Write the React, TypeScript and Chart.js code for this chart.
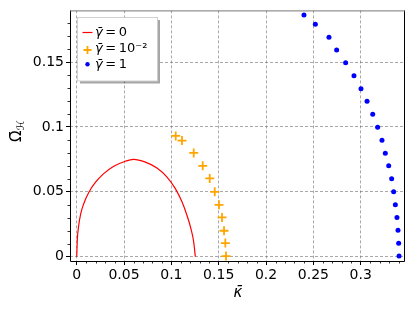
import React, { useEffect, useRef } from "react";
import { Chart, registerables } from "chart.js";

Chart.register(...registerables);

// ---- data ----
const redKappa = [0, 0.0007, 0.0021, 0.0042, 0.0074, 0.0127, 0.0197, 0.0285, 0.0391, 0.0514, 0.06, 0.0725, 0.0848, 0.0954, 0.1042, 0.1112, 0.1165, 0.1207, 0.1236, 0.1253];
const redOmega = [0, 0.0138, 0.0241, 0.0331, 0.0408, 0.0495, 0.0572, 0.064, 0.0697, 0.0736, 0.075, 0.0729, 0.0684, 0.0614, 0.0525, 0.0423, 0.0318, 0.0215, 0.0113, 0];

const orangeKappa = [0.1046, 0.1112, 0.1236, 0.1331, 0.1405, 0.1458, 0.1503, 0.1535, 0.1556, 0.157, 0.1577];
const orangeOmega = [0.0931, 0.0895, 0.08, 0.07, 0.0603, 0.05, 0.04, 0.0303, 0.02, 0.0105, 0.0005];

const blueKappa = [0.2401, 0.2521, 0.2665, 0.2746, 0.2841, 0.2929, 0.3003, 0.3067, 0.3127, 0.3179, 0.3225, 0.326, 0.3296, 0.3327, 0.3348, 0.3366, 0.3383, 0.3394, 0.3401, 0.3405];
const blueOmega = [0.1862, 0.1792, 0.1692, 0.1592, 0.1495, 0.1395, 0.1295, 0.1198, 0.1098, 0.0998, 0.0898, 0.0798, 0.07, 0.06, 0.05, 0.04, 0.0303, 0.0203, 0.0103, 0.0005];

const legendSymbol = "\u03B3\u0304";
const legendValues = ["\u2009=\u20090", "\u2009=\u200910\u207B\u00B2", "\u2009=\u20091"];
const xTitle = "\u03BA\u0304";
const yTitleMain = "\u03A9\u0304";
const yTitleSub = "\u210B";

const X_MIN = -0.0071;
const X_MAX = 0.3468;
const Y_MIN = -0.0033;
const Y_MAX = 0.1898;
const MAJOR_STEP = 0.05;
const MINOR_COUNT_X = 34;
const MINOR_COUNT_Y = 18;

const FONT = "'DejaVu Sans', sans-serif";

const zip = (xs: number[], ys: number[]) => xs.map((x, i) => ({ x, y: ys[i] }));
const fmt = (v: number) => String(Math.round(v * 100) / 100);

const decorPlugin = {
  id: "decor",
  afterDraw(chart: any) {
    const { ctx, chartArea } = chart;
    const { left, right, top, bottom } = chartArea;
    const xs = chart.scales.x;
    const ys = chart.scales.y;
    ctx.save();
    // minor ticks
    ctx.strokeStyle = "#000";
    ctx.lineWidth = 0.8;
    ctx.beginPath();
    for (let i = 0; i <= MINOR_COUNT_X; i++) {
      if (i % 5 === 0) continue;
      const px = Math.round(xs.getPixelForValue(i / 100)) + 0.5;
      ctx.moveTo(px, bottom);
      ctx.lineTo(px, bottom + 2.5);
    }
    for (let i = 0; i <= MINOR_COUNT_Y; i++) {
      if (i % 5 === 0) continue;
      const py = Math.round(ys.getPixelForValue(i / 100)) + 0.5;
      ctx.moveTo(left, py);
      ctx.lineTo(left - 2.5, py);
    }
    ctx.stroke();
    // frame
    ctx.lineWidth = 1;
    ctx.strokeStyle = "#000";
    ctx.beginPath();
    ctx.moveTo(left + 0.5, top);
    ctx.lineTo(left + 0.5, bottom + 0.5);
    ctx.lineTo(right - 0.5, bottom + 0.5);
    ctx.lineTo(right - 0.5, top);
    ctx.stroke();
    ctx.strokeStyle = "#777";
    ctx.beginPath();
    ctx.moveTo(left, top + 0.5);
    ctx.lineTo(right, top + 0.5);
    ctx.stroke();

    // legend
    const bx = 77.5, by = 17.5, bw = 80, bh = 63.5;
    ctx.fillStyle = "rgba(0,0,0,0.35)";
    ctx.fillRect(bx + 2.5, by + 2.5, bw, bh);
    ctx.fillStyle = "#fff";
    ctx.fillRect(bx, by, bw, bh);
    ctx.strokeStyle = "#d0d0d0";
    ctx.lineWidth = 1;
    ctx.strokeRect(bx, by, bw, bh);
    const rows = [32.5, 48.5, 64.3];
    // red line
    ctx.strokeStyle = "#ff0000";
    ctx.lineWidth = 1.2;
    ctx.beginPath();
    ctx.moveTo(82.5, rows[0]);
    ctx.lineTo(92.5, rows[0]);
    ctx.stroke();
    // orange cross
    ctx.strokeStyle = "#ffa500";
    ctx.lineWidth = 1.8;
    ctx.beginPath();
    ctx.moveTo(83.5, rows[1] + 1.5);
    ctx.lineTo(91.5, rows[1] + 1.5);
    ctx.moveTo(87.5, rows[1] - 2.5);
    ctx.lineTo(87.5, rows[1] + 5.5);
    ctx.stroke();
    // blue dot
    ctx.fillStyle = "#0000ff";
    ctx.beginPath();
    ctx.arc(87.5, rows[2], 2.2, 0, Math.PI * 2);
    ctx.fill();
    ctx.fillStyle = "#000";
    ctx.textBaseline = "middle";
    ctx.textAlign = "left";
    legendValues.forEach((t, i) => {
      ctx.font = `italic 13px ${FONT}`;
      ctx.fillText(legendSymbol, 95, rows[i] + 0.5);
      const w = ctx.measureText(legendSymbol).width;
      ctx.font = `13px ${FONT}`;
      ctx.fillText(t, 95 + w, rows[i] + 0.5);
    });

    // axis titles
    ctx.font = `italic 15px ${FONT}`;
    ctx.textAlign = "center";
    ctx.textBaseline = "middle";
    ctx.fillText(xTitle, 238, 293);

    ctx.translate(16, 128);
    ctx.rotate(-Math.PI / 2);
    ctx.font = `15px ${FONT}`;
    ctx.textAlign = "left";
    ctx.textBaseline = "alphabetic";
    ctx.fillText(yTitleMain, -14, 5);
    ctx.font = `italic 10px ${FONT}`;
    ctx.fillText(yTitleSub, -2, 8);
    ctx.restore();
  },
};

export default function App() {
  const ref = useRef<HTMLCanvasElement | null>(null);
  useEffect(() => {
    if (!ref.current) return;
    const tickFont = { family: FONT, size: 14 };
    const chart = new Chart(ref.current, {
      type: "scatter",
      data: {
        datasets: [
          {
            data: zip(redKappa, redOmega),
            showLine: true,
            borderColor: "#ff0000",
            borderWidth: 1.2,
            pointRadius: 0,
            cubicInterpolationMode: "monotone",
            fill: false,
          },
          {
            data: zip(orangeKappa, orangeOmega),
            showLine: false,
            pointStyle: "cross",
            pointRadius: 4.5,
            borderColor: "#ffa500",
            backgroundColor: "#ffa500",
            borderWidth: 1.8,
          },
          {
            data: zip(blueKappa, blueOmega),
            showLine: false,
            pointStyle: "circle",
            pointRadius: 2.5,
            borderWidth: 0,
            backgroundColor: "#0000ff",
            borderColor: "#0000ff",
          },
        ],
      } as any,
      options: {
        responsive: false,
        devicePixelRatio: 1,
        animation: false,
        layout: { padding: { left: 0, top: 10, right: 10, bottom: 0 } },
        plugins: { legend: { display: false }, tooltip: { enabled: false } },
        scales: {
          x: {
            type: "linear",
            min: X_MIN,
            max: X_MAX,
            afterFit: (s: any) => {
              s.height = 49;
            },
            ticks: {
              stepSize: MAJOR_STEP,
              includeBounds: false,
              autoSkip: false,
              maxRotation: 0,
              color: "#000",
              font: tickFont,
              padding: 2,
              callback: (v: any) => fmt(Number(v)),
            },
            grid: {
              color: "rgba(110,110,110,0.75)",
              lineWidth: 0.8,
              tickLength: 4,
              tickColor: "#000",
              tickWidth: 1,
            },
            border: { display: false, dash: [3, 2] },
          },
          y: {
            type: "linear",
            min: Y_MIN,
            max: Y_MAX,
            afterFit: (s: any) => {
              s.width = 70;
            },
            ticks: {
              stepSize: MAJOR_STEP,
              includeBounds: false,
              autoSkip: false,
              color: "#000",
              font: tickFont,
              padding: 2,
              callback: (v: any) => fmt(Number(v)),
            },
            grid: {
              color: "rgba(110,110,110,0.75)",
              lineWidth: 0.8,
              tickLength: 4,
              tickColor: "#000",
              tickWidth: 1,
            },
            border: { display: false, dash: [3, 2] },
          },
        },
      } as any,
      plugins: [decorPlugin],
    });
    return () => chart.destroy();
  }, []);
  return (
    <div style={{ position: "absolute", left: 0, top: 0, width: 415, height: 310, background: "#fff" }}>
      <canvas ref={ref} width={415} height={310} style={{ display: "block" }} />
    </div>
  );
}
